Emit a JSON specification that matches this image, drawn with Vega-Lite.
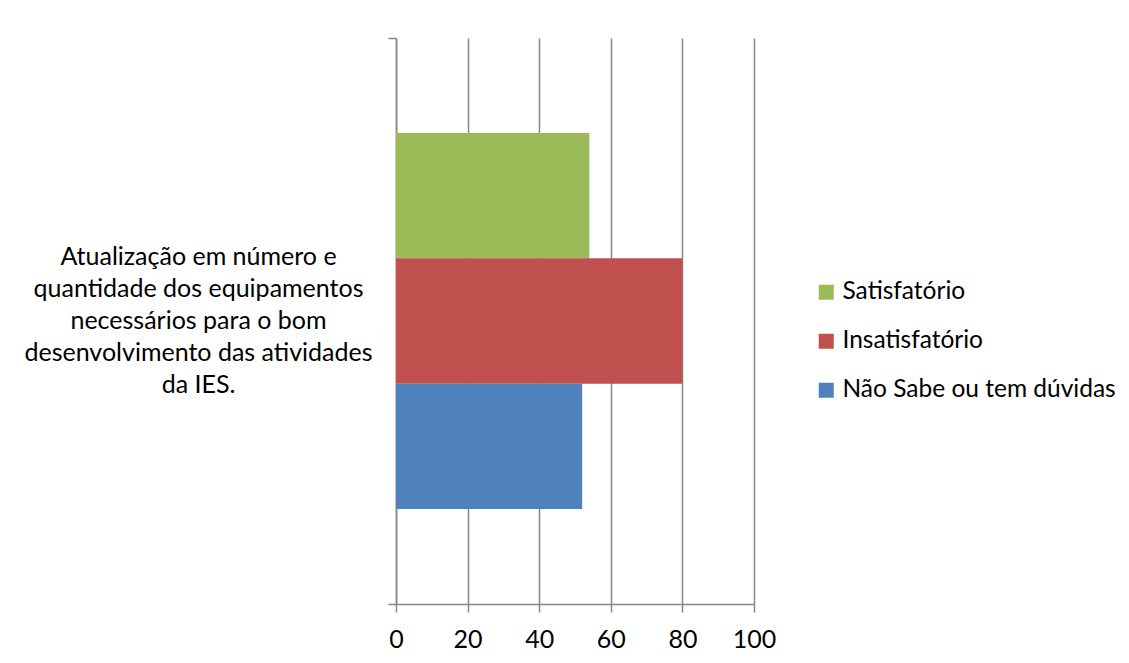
{
  "$schema": "https://vega.github.io/schema/vega-lite/v6.json",
  "autosize": {"type": "none"},
  "padding": {"left": 396, "top": 38, "right": 375, "bottom": 59},
  "width": 358,
  "height": 566,
  "background": "white",
  "config": {
    "font": "Lato",
    "view": {"stroke": null}
  },
  "data": {
    "values": [
      {"categoria": "Atualização em número e\nquantidade dos equipamentos\nnecessários para o bom\ndesenvolvimento das atividades\nda IES.", "resposta": "Satisfatório", "valor": 54},
      {"categoria": "Atualização em número e\nquantidade dos equipamentos\nnecessários para o bom\ndesenvolvimento das atividades\nda IES.", "resposta": "Insatisfatório", "valor": 80},
      {"categoria": "Atualização em número e\nquantidade dos equipamentos\nnecessários para o bom\ndesenvolvimento das atividades\nda IES.", "resposta": "Não Sabe ou tem dúvidas", "valor": 52}
    ]
  },
  "mark": {"type": "bar"},
  "encoding": {
    "y": {
      "field": "categoria",
      "type": "nominal",
      "scale": {"paddingInner": 0, "paddingOuter": 0},
      "axis": {
        "title": null,
        "labelExpr": "split(datum.label, '\\n')",
        "labelAlign": "center",
        "labelBaseline": "middle",
        "labelPadding": 190,
        "labelOffset": -64,
        "labelLimit": 600,
        "labelFontSize": 25,
        "labelLineHeight": 32,
        "labelColor": "black",
        "bandPosition": 1,
        "tickExtra": true,
        "tickSize": 8,
        "tickColor": "#868686",
        "tickWidth": 1.5,
        "domainColor": "#868686",
        "domainWidth": 1.5,
        "grid": false
      }
    },
    "yOffset": {
      "field": "resposta",
      "type": "nominal",
      "sort": ["Satisfatório", "Insatisfatório", "Não Sabe ou tem dúvidas"],
      "scale": {"paddingInner": 0, "paddingOuter": 0.758}
    },
    "x": {
      "field": "valor",
      "type": "quantitative",
      "scale": {"domain": [0, 100], "nice": false},
      "axis": {
        "title": null,
        "values": [0, 20, 40, 60, 80, 100],
        "labelFontSize": 25,
        "labelColor": "black",
        "labelPadding": 15,
        "tickSize": 8,
        "tickColor": "#868686",
        "tickWidth": 1.5,
        "domainColor": "#868686",
        "domainWidth": 1.5,
        "gridColor": "#868686",
        "gridWidth": 1.5,
        "labelFlush": false
      }
    },
    "color": {
      "field": "resposta",
      "type": "nominal",
      "scale": {
        "domain": ["Satisfatório", "Insatisfatório", "Não Sabe ou tem dúvidas"],
        "range": ["#9BBB59", "#C0504D", "#4F81BD"]
      },
      "legend": {
        "title": null,
        "orient": "none",
        "legendX": 418,
        "legendY": 242,
        "symbolType": "square",
        "symbolSize": 225,
        "symbolStrokeWidth": 0,
        "labelFontSize": 24.5,
        "labelColor": "black",
        "labelOffset": 4,
        "rowPadding": 24,
        "labelLimit": 400
      }
    }
  }
}
